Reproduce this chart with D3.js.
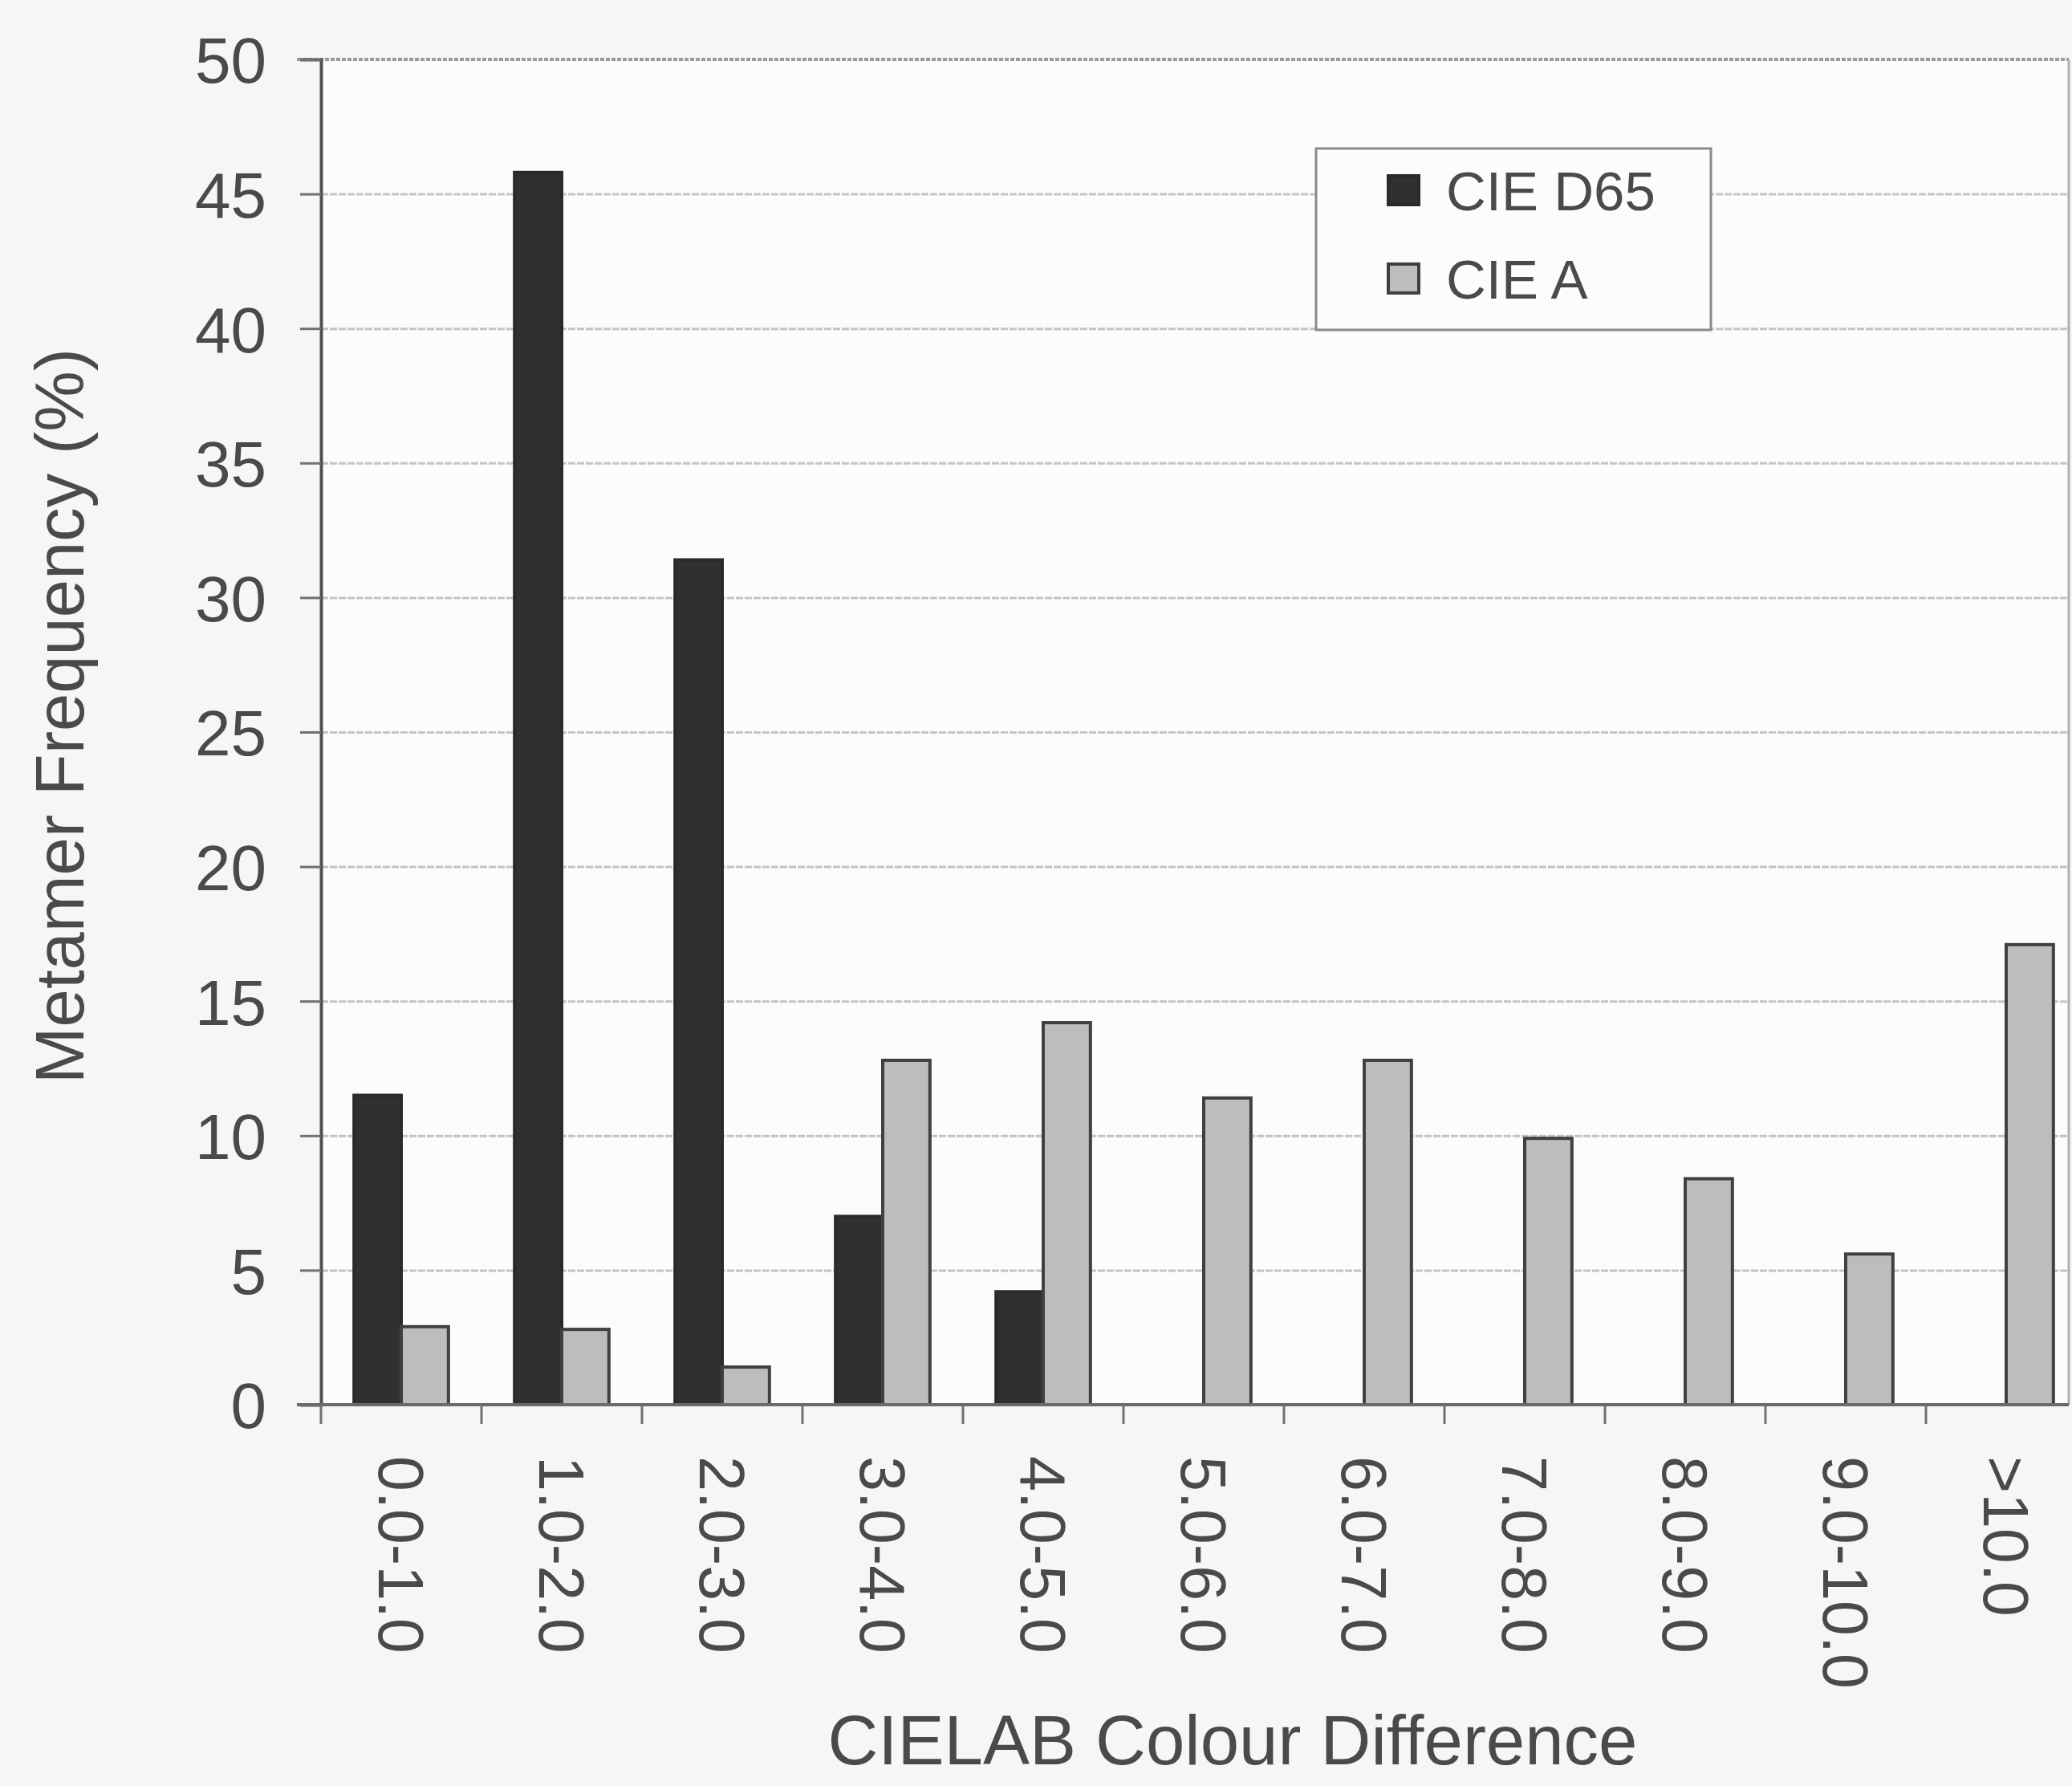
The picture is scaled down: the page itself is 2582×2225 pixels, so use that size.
<!DOCTYPE html>
<html lang="en">
<head>
<meta charset="UTF-8">
<title>Metamer Frequency vs CIELAB Colour Difference</title>
<script src="https://d3js.org/d3.v7.min.js"></script>
<style>
    body {
        margin: 0;
        background: #f6f6f4;
    }
    svg text {
        font-family: "Liberation Sans", Arial, sans-serif;
        fill: #4a4a4a;
    }
</style>
</head>
<body>
<svg id="chart" width="2582" height="2225"></svg>
<script>
    // data
    const categories = ['0.0-1.0', '1.0-2.0', '2.0-3.0', '3.0-4.0', '4.0-5.0', '5.0-6.0',
        '6.0-7.0', '7.0-8.0', '8.0-9.0', '9.0-10.0', '>10.0'];
    const seriesNames = ['CIE D65', 'CIE A'];
    const d65Values = [11.5, 45.8, 31.4, 7.0, 4.2, 0, 0, 0, 0, 0, 0];
    const aValues = [2.9, 2.8, 1.4, 12.8, 14.2, 11.4, 12.8, 9.9, 8.4, 5.6, 17.1];
    const yTicks = [0, 5, 10, 15, 20, 25, 30, 35, 40, 45, 50];

    const svg = d3.select('#chart');
    const plotLeft = 400, plotTop = 74, plotBottom = 1750, frameRight = 2578;

    const x = d3.scaleBand().domain(categories).range([plotLeft, plotLeft + 200 * categories.length]).padding(0);
    const xs = d3.scaleBand().domain(seriesNames).range([0, x.bandwidth()]).paddingOuter(0.7).paddingInner(0);
    const y = d3.scaleLinear().domain([0, 50]).range([plotBottom, plotTop]);

    const fills = { 'CIE D65': '#303030', 'CIE A': '#bdbdbd' };
    const strokes = { 'CIE D65': '#2a2a2a', 'CIE A': '#404040' };

    // plot area
    svg.append('rect')
        .attr('x', plotLeft).attr('y', plotTop)
        .attr('width', frameRight - plotLeft).attr('height', plotBottom - plotTop)
        .attr('fill', '#fcfcfb');

    // gridlines
    const grid = svg.append('g')
        .attr('transform', `translate(${plotLeft},0)`)
        .call(d3.axisLeft(y).tickValues(yTicks.filter(v => v > 0 && v < 50)).tickSize(-(frameRight - plotLeft)).tickFormat(''));
    grid.select('.domain').remove();
    grid.selectAll('line')
        .attr('stroke', '#c4c4c4')
        .attr('stroke-width', 3)
        .attr('stroke-dasharray', '9,2');

    // top and right border of plot area
    svg.append('line')
        .attr('x1', plotLeft - 30).attr('x2', frameRight)
        .attr('y1', y(50)).attr('y2', y(50))
        .attr('stroke', '#9a9a9a').attr('stroke-width', 4)
        .attr('stroke-dasharray', '5,2');
    svg.append('line')
        .attr('x1', frameRight).attr('x2', frameRight)
        .attr('y1', y(50)).attr('y2', plotBottom)
        .attr('stroke', '#b0b0b0').attr('stroke-width', 3);

    // bars
    const rows = categories.map((c, i) => ({ cat: c, values: [
        { name: 'CIE D65', value: d65Values[i] },
        { name: 'CIE A', value: aValues[i] }
    ] }));

    const groups = svg.selectAll('.group')
        .data(rows)
        .enter()
        .append('g')
        .attr('class', 'group')
        .attr('transform', d => `translate(${x(d.cat)},0)`);

    groups.selectAll('rect')
        .data(d => d.values.filter(v => v.value > 0))
        .enter()
        .append('rect')
        .attr('x', d => xs(d.name))
        .attr('y', d => y(d.value))
        .attr('width', xs.bandwidth())
        .attr('height', d => y(0) - y(d.value))
        .attr('fill', d => fills[d.name])
        .attr('stroke', d => strokes[d.name])
        .attr('stroke-width', 4);

    // y axis
    const yAxis = svg.append('g')
        .attr('transform', `translate(${plotLeft},0)`)
        .call(d3.axisLeft(y).tickValues(yTicks).tickSize(26).tickPadding(42));
    yAxis.select('.domain').attr('stroke', '#505050').attr('stroke-width', 4);
    yAxis.selectAll('.tick line').attr('stroke', '#707070').attr('stroke-width', 3);
    yAxis.selectAll('.tick text')
        .style('font-size', '80px')
        .attr('dy', '0.36em');

    // x axis: baseline and boundary ticks
    svg.append('line')
        .attr('x1', plotLeft - 30).attr('x2', frameRight)
        .attr('y1', plotBottom).attr('y2', plotBottom)
        .attr('stroke', '#6a6a6a').attr('stroke-width', 4);
    const edges = categories.map(c => x(c)).concat([x.range()[1]]);
    svg.append('g').selectAll('line')
        .data(edges)
        .enter()
        .append('line')
        .attr('x1', d => d).attr('x2', d => d)
        .attr('y1', plotBottom).attr('y2', plotBottom + 24)
        .attr('stroke', '#707070').attr('stroke-width', 3);

    svg.append('g').selectAll('text')
        .data(categories)
        .enter()
        .append('text')
        .attr('transform', d => `translate(${x(d) + x.bandwidth() / 2},1814) rotate(90)`)
        .attr('dy', '0.36em')
        .style('font-size', '79px')
        .text(d => d);

    // axis titles
    svg.append('text')
        .attr('transform', 'translate(104,892) rotate(-90)')
        .attr('text-anchor', 'middle')
        .style('font-size', '85px')
        .text('Metamer Frequency (%)');

    svg.append('text')
        .attr('x', 1536).attr('y', 2198)
        .attr('text-anchor', 'middle')
        .style('font-size', '87px')
        .text('CIELAB Colour Difference');

    // legend
    const legend = svg.append('g').attr('transform', 'translate(1640,185)');
    legend.append('rect')
        .attr('width', 492).attr('height', 226)
        .attr('fill', '#fcfcfb')
        .attr('stroke', '#8a8a8a').attr('stroke-width', 3);
    const items = legend.selectAll('.item')
        .data(seriesNames)
        .enter()
        .append('g')
        .attr('class', 'item')
        .attr('transform', (d, i) => `translate(90,${52 + i * 110})`);
    items.append('rect')
        .attr('x', 0).attr('y', -18)
        .attr('width', 38).attr('height', 36)
        .attr('fill', d => fills[d])
        .attr('stroke', d => strokes[d])
        .attr('stroke-width', 4);
    items.append('text')
        .attr('x', 72)
        .attr('dy', '0.36em')
        .style('font-size', '69px')
        .text(d => d);
</script>
</body>
</html>
